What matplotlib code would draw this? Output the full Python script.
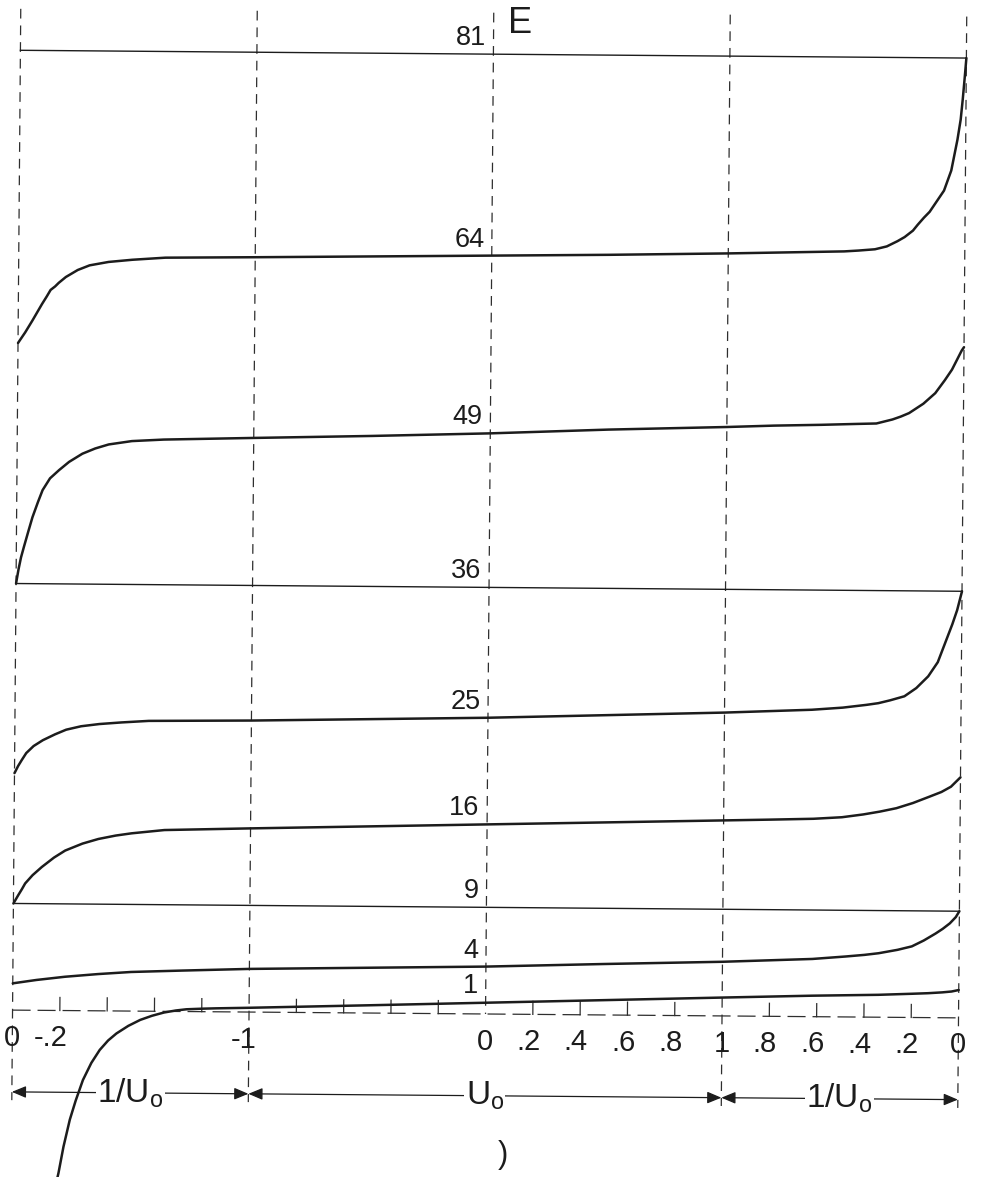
import matplotlib
matplotlib.use("Agg")
import matplotlib.pyplot as plt
from matplotlib.transforms import Affine2D

plt.rcParams.update({"font.family": ["Liberation Sans", "DejaVu Sans"],
                     "lines.scale_dashes": False,
                     "mathtext.default": "regular",
                     "savefig.facecolor": "white"})

# abscissa: four unit blocks  1/U0 (0 -> -1) | U0 (-1 -> 1) | 1/U0 (1 -> 0)
SPLITS = [-2, -1, 0, 1, 2]
TICKS = [-1.8, -1.6, -1.4, -1.2, -0.8, -0.6, -0.4, -0.2,
         0.2, 0.4, 0.6, 0.8, 1.2, 1.4, 1.6, 1.8]
LABEL_POS = [-2, -1.8, -1, 0, 0.2, 0.4, 0.6, 0.8, 1, 1.2, 1.4, 1.6, 1.8, 2]
LABEL_TXT = ["0", "-.2", "-1", "0", ".2", ".4", ".6", ".8", "1",
             ".8", ".6", ".4", ".2", "0"]
SPANS = [(-2, -1), (-1, 1), (1, 2)]
SPAN_TXT = ["$1/U_o$", "$U_o$", "$1/U_o$"]

# levels unaffected by the potential
FLAT = [9, 36, 81]
LEVELS = [1, 4, 9, 16, 25, 36, 49, 64, 81]

t1 = [-1.82, -1.80, -1.78, -1.754, -1.73, -1.70, -1.665, -1.63, -1.595, -1.56,
      -1.51, -1.46, -1.41, -1.36, -1.31, -1.265, -1.2, -1.14, -1.0, -0.5,
      0.0, 0.5, 1.0, 1.38, 1.66, 1.80, 1.87, 1.93, 1.97, 2.0]
e1 = [-15.5, -13.7, -11.5, -9.2, -7.6, -5.85, -4.4, -3.3, -2.5, -1.9,
      -1.25, -0.74, -0.38, -0.1, 0.08, 0.19, 0.25, 0.29, 0.36, 0.65,
      0.95, 1.25, 1.55, 1.77, 1.89, 2.0, 2.06, 2.14, 2.22, 2.35]

t4 = [-2.0, -1.9, -1.78, -1.64, -1.50, -1.29, -1.0, -0.5, 0.0, 0.5, 1.0,
      1.38, 1.52, 1.60, 1.66, 1.74, 1.80, 1.85, 1.90, 1.93, 1.96, 1.985, 2.0]
e4 = [2.26, 2.56, 2.85, 3.1, 3.3, 3.45, 3.64, 3.82, 4.0, 4.3, 4.57,
      4.87, 5.1, 5.25, 5.4, 5.7, 6.0, 6.5, 7.1, 7.5, 7.97, 8.5, 9.0]

t16 = [-2.0, -1.98, -1.965, -1.951, -1.92, -1.881, -1.83, -1.783, -1.71, -1.643,
       -1.57, -1.503, -1.364, -1.0, -0.5, 0.0, 0.5, 1.0, 1.2, 1.38,
       1.5, 1.59, 1.66, 1.73, 1.80, 1.87, 1.92, 1.96, 2.0]
e16 = [9.0, 9.7, 10.2, 10.7, 11.4, 12.1, 12.9, 13.5, 14.1, 14.5,
       14.8, 15.0, 15.3, 15.5, 15.75, 16.0, 16.25, 16.5, 16.6, 16.7,
       16.85, 17.1, 17.35, 17.65, 18.1, 18.65, 19.05, 19.5, 20.3]

t25 = [-2.0, -1.985, -1.97, -1.951, -1.92, -1.881, -1.83, -1.783, -1.72, -1.643,
       -1.55, -1.434, -1.0, -0.5, 0.0, 0.5, 1.0, 1.37, 1.5, 1.6,
       1.65, 1.70, 1.76, 1.81, 1.86, 1.90, 1.93, 1.96, 1.98, 2.0]
e25 = [20.0, 20.6, 21.1, 21.7, 22.3, 22.8, 23.3, 23.7, 24.0, 24.2,
       24.35, 24.5, 24.6, 24.8, 25.0, 25.3, 25.6, 25.9, 26.1, 26.35,
       26.5, 26.75, 27.1, 27.8, 28.8, 30.0, 31.6, 33.2, 34.4, 36.0]

t49 = [-2.0, -1.99, -1.98, -1.968, -1.95, -1.933, -1.91, -1.891, -1.86, -1.822,
       -1.78, -1.724, -1.67, -1.613, -1.515, -1.38, -1.0, -0.5, 0.0, 0.5,
       1.0, 1.2, 1.4, 1.55, 1.632, 1.70, 1.735, 1.77, 1.83, 1.88,
       1.92, 1.95, 1.975, 1.99, 2.0]
e49 = [36.0, 37.2, 38.2, 39.1, 40.4, 41.6, 42.9, 43.9, 44.9, 45.6,
       46.3, 47.0, 47.45, 47.8, 48.1, 48.25, 48.45, 48.7, 49.0, 49.4,
       49.7, 49.85, 49.95, 50.05, 50.1, 50.45, 50.7, 51.0, 51.8, 52.7,
       53.8, 54.7, 55.7, 56.3, 56.6]

t64 = [-2.0, -1.985, -1.97, -1.955, -1.94, -1.92, -1.90, -1.88, -1.864, -1.845,
       -1.83, -1.80, -1.775, -1.75, -1.70, -1.62, -1.52, -1.38, -1.0, -0.5,
       0.0, 0.5, 1.0, 1.49, 1.55, 1.62, 1.67, 1.715, 1.745, 1.78,
       1.80, 1.826, 1.85, 1.87, 1.89, 1.91, 1.94, 1.965, 1.978, 1.986,
       1.993, 2.0]
e64 = [56.3, 56.75, 57.2, 57.7, 58.2, 58.9, 59.6, 60.25, 60.8, 61.1,
       61.4, 61.9, 62.2, 62.5, 62.9, 63.2, 63.4, 63.6, 63.7, 63.85,
       64.0, 64.15, 64.35, 64.6, 64.68, 64.8, 65.05, 65.5, 65.85, 66.4,
       66.9, 67.5, 68.0, 68.6, 69.2, 69.8, 71.5, 74.1, 75.8, 77.5,
       79.2, 81.0]

CURVES = [(t1, e1), (t4, e4), (t16, e16), (t25, e25), (t49, e49), (t64, e64)]

# page geometry (pixels at 100 dpi)
W, H = 981, 1177
X0, XS = 16.5, 236.5      # pixel of t=-2, pixels per unit t
Y0, YS = 1014.0, 11.85    # pixel row of E=0, pixels per unit E
TILT = -0.47              # the sheet sits slightly skewed

fig = plt.figure(figsize=(W / 100, H / 100), dpi=100)
ax = fig.add_axes([0, 0, 1, 1])
ax.axis("off")
ax.set_xlim(-2 - X0 / XS, -2 + (W - X0) / XS)
ax.set_ylim((Y0 - H) / YS, Y0 / YS)
T = ax.transData + Affine2D().rotate_deg_around(489, H - 530, TILT)

INK = "#1c1c1c"
GRID = "#2e2e2e"
E_TOP, E_ARROW, E_LOW = 84.5, -6.9, -7.6

# vertical dashed guides
for s in SPLITS:
    ax.plot([s, s], [E_TOP, 0 if s == 0 else E_LOW], transform=T, color=GRID,
            lw=0.9, ls=(0, (7, 5)), zorder=1)

# dashed base line with tick marks
ax.plot([-2, 2], [0, 0], transform=T, color=GRID, lw=0.9, ls=(0, (13, 5)), zorder=1)
for tk in TICKS:
    ax.plot([tk, tk], [0, 1.1], transform=T, color=GRID, lw=0.9, zorder=1)
for pos, txt in zip(LABEL_POS, LABEL_TXT):
    ax.text(pos + 0.034, -3.0, txt, transform=T, ha="right", va="baseline",
            fontsize=21, color=INK)

# level lines and curves
for lv in FLAT:
    ax.plot([-2, 2], [lv, lv], transform=T, color=INK, lw=1.0, zorder=4)
for tt, ee in CURVES:
    ax.plot(tt, ee, transform=T, color=INK, lw=1.8, zorder=4,
            solid_capstyle="round", solid_joinstyle="round")
for lv in LEVELS:
    ax.text(-0.032, lv + 0.75, str(lv), transform=T, ha="right", va="baseline",
            fontsize=19.5, color=INK)
ax.text(0.061, 82.8, "E", transform=T, ha="left", va="baseline",
        fontsize=26, color=INK)

# range arrows under the axis
for (a, b), txt in zip(SPANS, SPAN_TXT):
    ax.annotate("", xy=(b, E_ARROW), xytext=(a, E_ARROW), xycoords=T, textcoords=T,
                arrowprops=dict(arrowstyle="<|-|>,head_length=0.43,head_width=0.18",
                                mutation_scale=20, lw=0.9, color=INK,
                                shrinkA=0, shrinkB=0), zorder=2)
    ax.text((a + b) / 2, E_ARROW, txt, transform=T, ha="center", va="center",
            fontsize=24, color=INK, zorder=3,
            bbox=dict(fc="white", ec="none", pad=1.0))

ax.text(0.08, -11.9, ")", transform=T, ha="center", va="center",
        fontsize=22, color=INK)

fig.savefig("out.png", dpi=100)
